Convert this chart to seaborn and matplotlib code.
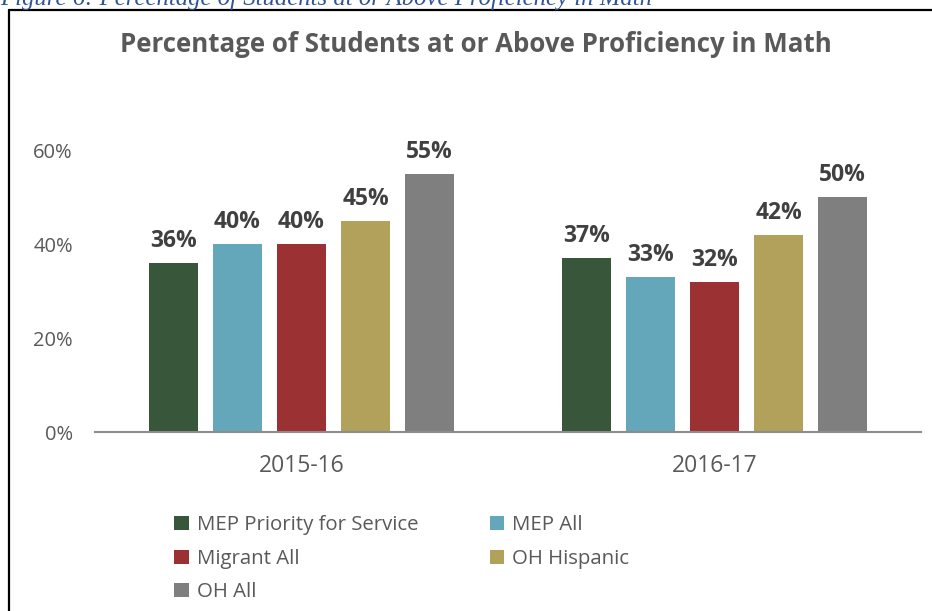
import matplotlib
matplotlib.use("Agg")
import matplotlib.pyplot as plt
import pandas as pd
import seaborn as sns
from matplotlib.patches import Patch

YEARS = ["2015-16", "2016-17"]
GROUPS = ["MEP Priority for Service", "MEP All", "Migrant All", "OH Hispanic", "OH All"]
PCT_2015 = [36, 40, 40, 45, 55]
PCT_2016 = [37, 33, 32, 42, 50]
COLORS = ["#38563A", "#65A7BA", "#9C3133", "#B2A15B", "#7F7F7F"]

TITLE = "Percentage of Students at or Above Proficiency in Math"
CAPTION = "Figure 6: Percentage of Students at or Above Proficiency in Math"

df = pd.DataFrame({
    "year": [YEARS[0]] * len(GROUPS) + [YEARS[1]] * len(GROUPS),
    "group": GROUPS * 2,
    "pct": PCT_2015 + PCT_2016,
})

sns.set_theme(style="white")
plt.rcParams["font.family"] = ["Open Sans", "DejaVu Sans"]

fig = plt.figure(figsize=(9.32, 6.11), dpi=100)
ax = fig.add_axes([95 / 932, 1 - 432 / 611, 826 / 932, (432 - 150) / 611])

sns.barplot(
    data=df, x="year", y="pct", hue="group", order=YEARS, hue_order=GROUPS,
    palette=COLORS, width=0.775, gap=0.22, legend=False, ax=ax,
    saturation=1, edgecolor="none",
)

for cont in ax.containers:
    ax.bar_label(
        cont, labels=[f"{v:.0f}%" for v in cont.datavalues], padding=7,
        fontsize=16.5, fontweight="bold", color="#404040", clip_on=False,
    )

ax.set_ylim(0, 60)
ax.set_xlim(-0.5, 1.5)
ax.set_yticks([0, 20, 40, 60])
ax.set_yticklabels(["0%", "20%", "40%", "60%"])
ax.set_xlabel("")
ax.set_ylabel("")
ax.tick_params(axis="y", labelsize=14.5, labelcolor="#595959", pad=16, length=0)
ax.tick_params(axis="x", labelsize=16.5, labelcolor="#595959", pad=16, length=0)
for side in ["top", "right", "left"]:
    ax.spines[side].set_visible(False)
ax.spines["bottom"].set_color("#8C8C8C")
ax.spines["bottom"].set_linewidth(1.5)

handles = [Patch(facecolor=c, edgecolor="none") for c in COLORS]
order = [0, 2, 4, 1, 3]
fig.legend(
    [handles[i] for i in order], [GROUPS[i] for i in order],
    ncol=2, loc="upper left", bbox_to_anchor=(156 / 932, 1 - 497 / 611),
    frameon=False, fontsize=14.7, labelcolor="#595959",
    handlelength=0.7, handleheight=0.7, handletextpad=0.4,
    columnspacing=3.5, labelspacing=0.66,
)

fig.text(0.511, 1 - 45 / 611, TITLE, ha="center", va="center",
         fontsize=18.6, fontweight="bold", color="#595959")

fig.text(0.0, 1 - 5 / 611, CAPTION, ha="left", va="baseline",
         fontsize=17.8, style="italic", color="#2F5597", family="Liberation Serif")

# frame of the surrounding figure box (top and left edges visible)
fig.add_artist(plt.Line2D([9 / 932, 9 / 932], [0, 1 - 10 / 611],
                          transform=fig.transFigure, color="black", lw=1.6))
fig.add_artist(plt.Line2D([9 / 932, 1], [1 - 10 / 611, 1 - 10 / 611],
                          transform=fig.transFigure, color="black", lw=1.6))

fig.savefig("out.png", dpi=100)
